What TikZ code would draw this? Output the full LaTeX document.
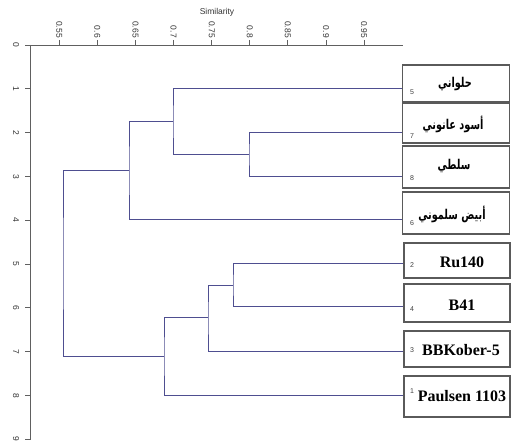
\documentclass[tikz,border=0pt]{standalone}
\usepackage{graphicx}
\usepackage{fontspec}
\setmainfont{Liberation Serif}
\newfontfamily\axisfont{Liberation Sans}
\newfontfamily\arabicfont[Script=Arabic,BoldFont={DejaVu Sans Bold}]{DejaVu Sans}
\TeXXeTstate=1
\definecolor{treecol}{HTML}{4E4E90}
\definecolor{axcol}{HTML}{606060}
\definecolor{boxcol}{HTML}{5A5A5A}
\newcommand{\arlabel}[1]{\scalebox{0.72}[1]{\arabicfont\bfseries\beginR #1\endR}}
\begin{document}
\begin{tikzpicture}[x=1pt,y=-1pt,
  tree/.style={draw=treecol,line width=1pt},
  axisline/.style={draw=axcol,line width=0.9pt},
  ticklab/.style={font=\axisfont\fontsize{8.5}{9}\selectfont,text=black!80,inner sep=0pt},
  leafbox/.style={draw=boxcol,line width=1.1pt,minimum width=107pt,inner sep=0pt},
  latname/.style={font=\fontsize{16}{18}\selectfont\bfseries,inner sep=0pt},
  arname/.style={font=\fontsize{13.5}{15}\selectfont,inner sep=0pt},
  leafnum/.style={font=\axisfont\fontsize{7}{8}\selectfont,text=black!75,inner sep=0pt}]
\useasboundingbox (0,0) rectangle (511,443);
% axes
\coordinate (axo) at (30,45);
\coordinate (axtop) at (403,45);
\coordinate (axbot) at (30,440);
\draw[axisline] (28,45) -- (axtop);
\draw[axisline] (axo) -- (axbot);
\node[ticklab] (simlab) at (217,12) {Similarity};
\foreach \v/\t in {0.55/0.55,0.60/0.6,0.65/0.65,0.70/0.7,0.75/0.75,0.80/0.8,0.85/0.85,0.90/0.9,0.95/0.95}{
  \pgfmathsetmacro{\xx}{59.3+(\v-0.55)*762}
  \draw[axisline] (\xx,40) -- (\xx,45);
  \node[ticklab,rotate=-90,anchor=east] at (\xx,38) {\t};
}
\foreach \i in {0,...,9}{
  \pgfmathsetmacro{\yy}{45+\i*43.8}
  \draw[axisline] (25,\yy) -- (30,\yy);
  \node[ticklab,rotate=-90] at (16,\yy) {\i};
}
% leaf boxes
\node[leafbox,minimum height=37pt] (b5) at (456,83.5) {};
\node[leafbox,minimum height=40pt] (b7) at (456,123) {};
\node[leafbox,minimum height=42pt] (b8) at (456,167) {};
\node[leafbox,minimum height=42pt] (b6) at (456,213) {};
\node[leafbox,minimum height=35pt,minimum width=106pt] (b2) at (457,260.5) {};
\node[leafbox,minimum height=38pt,minimum width=106pt] (b4) at (457,303) {};
\node[leafbox,minimum height=36pt,minimum width=106pt] (b3) at (457,349) {};
\node[leafbox,minimum height=41pt,minimum width=106pt] (b1) at (457,396.5) {};
% names
\node[arname] (n5) at (455,84) {\arlabel{حلواني}};
\node[arname] (n7) at (453,124) {\arlabel{أسود عانوني}};
\node[arname] (n8) at (454,166) {\arlabel{سلطي}};
\node[arname] (n6) at (452,214) {\arlabel{أبيض سلموني}};
\node[latname] (n2) at (462,262) {Ru140};
\node[latname] (n4) at (462,305) {B41};
\node[latname] (n3) at (461,350) {BBKober-5};
\node[latname] (n1) at (462,396) {Paulsen 1103};
% numbers
\node[leafnum] (k5) at (412,92) {5};
\node[leafnum] (k7) at (412,136) {7};
\node[leafnum] (k8) at (412,178) {8};
\node[leafnum] (k6) at (412,223) {6};
\node[leafnum] (k2) at (412,265) {2};
\node[leafnum] (k4) at (412,309) {4};
\node[leafnum] (k3) at (412,350) {3};
\node[leafnum] (k1) at (412,391) {1};
% leaf attachment points
\coordinate (l5) at (b5.west |- 0,89);
\coordinate (l7) at (b7.west |- 0,133);
\coordinate (l8) at (b8.west |- 0,177);
\coordinate (l6) at (b6.west |- 0,220);
\coordinate (l2) at (b2.west |- 0,264);
\coordinate (l4) at (b4.west |- 0,307);
\coordinate (l3) at (b3.west |- 0,351);
\coordinate (l1) at (b1.west |- 0,395);
% junctions
\coordinate (jA) at (249,155);
\coordinate (jB) at (173,122);
\coordinate (jC) at (129,171);
\coordinate (jD) at (233,285.5);
\coordinate (jE) at (208,318);
\coordinate (jF) at (164,356.5);
\coordinate (jR) at (63,263.75);
% tree
\draw[tree] (l7) -| (jA) |- (l8);
\draw[tree] (l5) -| (jB) |- (jA);
\draw[tree] (jB) -| (jC) |- (l6);
\draw[tree] (l2) -| (jD) |- (l4);
\draw[tree] (jD) -| (jE) |- (l3);
\draw[tree] (jE) -| (jF) |- (l1);
\draw[tree] (jC) -| (jR) |- (jF);
\end{tikzpicture}
\end{document}
